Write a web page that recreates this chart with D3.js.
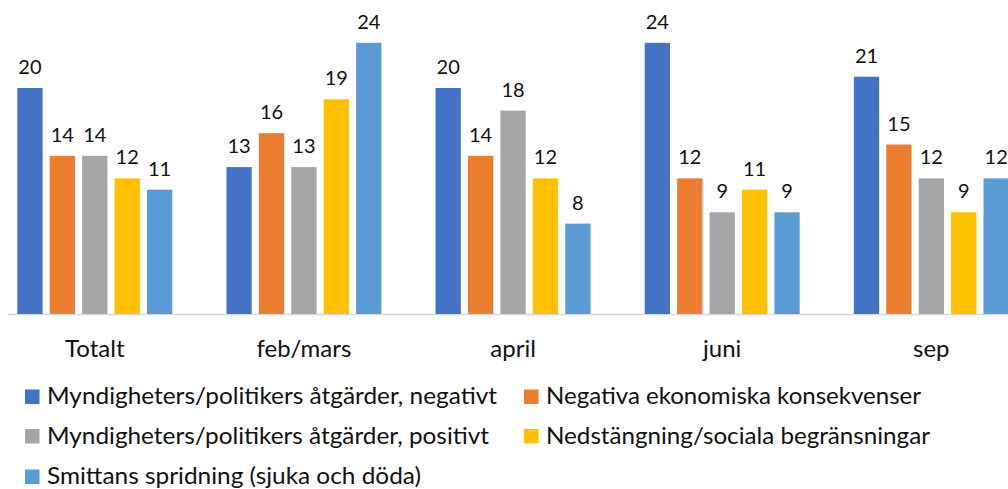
<!DOCTYPE html>
<html>
<head>
<meta charset="utf-8">
<script src="https://cdn.jsdelivr.net/npm/d3@7"></script>
<style>
  body { margin: 0; background: #fff; }
  #viz text { font-family: Lato, "Open Sans", sans-serif; fill: #111; }
</style>
</head>
<body>
<div id="viz"></div>
<script>
// categories (survey rounds) and series
const categories = ["Totalt", "feb/mars", "april", "juni", "sep"];
const seriesNames = [
  "Myndigheters/politikers åtgärder, negativt",
  "Negativa ekonomiska konsekvenser",
  "Myndigheters/politikers åtgärder, positivt",
  "Nedstängning/sociala begränsningar",
  "Smittans spridning (sjuka och döda)"
];
const myndNegativ = [20, 13, 20, 24, 21];
const ekonomi = [14, 16, 14, 12, 15];
const myndPositiv = [14, 13, 18, 9, 12];
const nedstangning = [12, 19, 12, 11, 9];
const smittan = [11, 24, 8, 9, 12];

const colors = ["#4472C4", "#ED7D31", "#A5A5A5", "#FFC000", "#5B9BD5"];

const seriesValues = [myndNegativ, ekonomi, myndPositiv, nedstangning, smittan];

// flatten into one row per bar
const data = [];
categories.forEach((c, ci) => {
  seriesNames.forEach((s, si) => {
    data.push({ cat: c, series: si, value: seriesValues[si][ci] });
  });
});

const width = 1008, height = 489;
const baseline = 314;

let svg = d3.select("#viz")
  .append("svg")
    .attr("width", width)
    .attr("height", height);

// the plot runs slightly past both edges, like the cropped original
const x = d3.scaleBand()
  .domain(categories)
  .range([-9.9, 1036])
  .paddingInner(0.259)
  .paddingOuter(0.13);

const xInner = d3.scaleBand()
  .domain(d3.range(seriesNames.length))
  .range([0, x.bandwidth()])
  .paddingInner(0.22);

const y = d3.scaleLinear()
  .domain([0, 25])
  .range([baseline, baseline - 25 * 11.3]);

// axis line
svg.append("line")
  .attr("x1", 8)
  .attr("x2", width)
  .attr("y1", baseline + 0.5)
  .attr("y2", baseline + 0.5)
  .style("stroke", "#D9D9D9")
  .style("stroke-width", 1.5);

// bars
svg.append("g")
  .selectAll("rect")
  .data(data)
  .enter()
  .append("rect")
    .attr("x", d => x(d.cat) + xInner(d.series))
    .attr("y", d => y(d.value))
    .attr("width", xInner.bandwidth())
    .attr("height", d => y(0) - y(d.value))
    .style("fill", d => colors[d.series]);

// value labels
svg.append("g")
  .selectAll("text")
  .data(data)
  .enter()
  .append("text")
    .attr("x", d => x(d.cat) + xInner(d.series) + xInner.bandwidth() / 2)
    .attr("y", d => y(d.value) - 14)
    .attr("text-anchor", "middle")
    .style("font-size", "20px")
    .text(d => d.value);

// category labels
svg.append("g")
  .selectAll("text")
  .data(categories)
  .enter()
  .append("text")
    .attr("x", d => x(d) + x.bandwidth() / 2)
    .attr("y", 357)
    .attr("text-anchor", "middle")
    .style("font-size", "24px")
    .text(d => d);

// legend, two columns
const legendPos = [
  { x: 25, y: 404, w: 450 },
  { x: 524, y: 404, w: 375 },
  { x: 25, y: 443.5, w: 442 },
  { x: 524, y: 443.5, w: 384 },
  { x: 25, y: 484, w: 374 }
];

let legend = svg.append("g")
  .selectAll("g")
  .data(seriesNames)
  .enter()
  .append("g")
    .attr("transform", (d, i) => `translate(${legendPos[i].x},${legendPos[i].y})`);

legend.append("rect")
  .attr("x", 0)
  .attr("y", -14.5)
  .attr("width", 14.5)
  .attr("height", 14.5)
  .style("fill", (d, i) => colors[i]);

legend.append("text")
  .attr("x", 22)
  .attr("y", 0)
  .attr("textLength", (d, i) => legendPos[i].w)
  .attr("lengthAdjust", "spacingAndGlyphs")
  .style("font-size", "23px")
  .text(d => d);
</script>
</body>
</html>
